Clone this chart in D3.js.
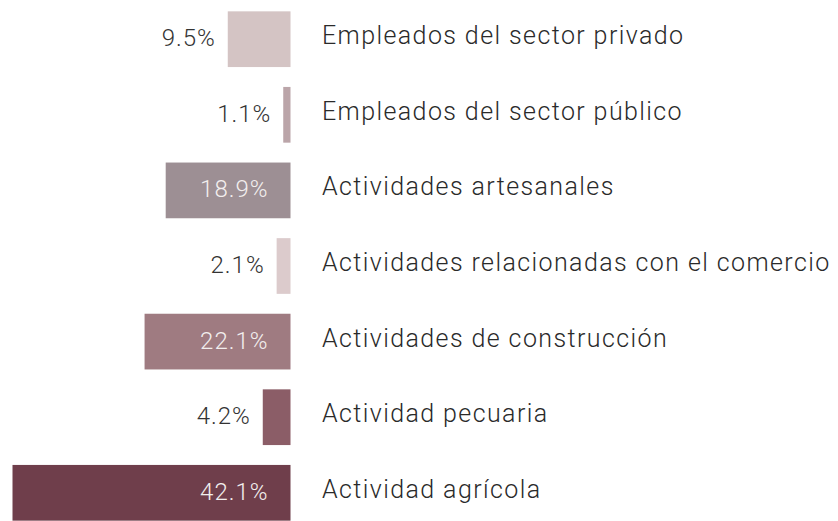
<!DOCTYPE html>
<html>
<head>
<meta charset="utf-8">
<script src="https://cdn.jsdelivr.net/npm/d3@7"></script>
<style>
  html, body { margin: 0; padding: 0; background: #ffffff; }
  svg { display: block; }
  text { font-family: Roboto, "Noto Sans", sans-serif; font-weight: 300; }
</style>
</head>
<body>
<div id="chart"></div>
<script>
const categories = [
  "Empleados del sector privado",
  "Empleados del sector público",
  "Actividades artesanales",
  "Actividades relacionadas con el comercio",
  "Actividades de construcción",
  "Actividad pecuaria",
  "Actividad agrícola"
];
const values = [9.5, 1.1, 18.9, 2.1, 22.1, 4.2, 42.1];
const valueLabels = ["9.5%", "1.1%", "18.9%", "2.1%", "22.1%", "4.2%", "42.1%"];
const colors = ["#d4c4c4", "#bba5a9", "#9d8f94", "#dccbcc", "#9f7b81", "#8b5d67", "#6f3e4b"];

const W = 838, H = 521;
const barRight = 290.5;
const svg = d3.select("#chart").append("svg").attr("width", W).attr("height", H);

const x = d3.scaleLinear().domain([0, 42.1]).range([0, 278]);
const y = d3.scaleBand().domain(categories).range([0, 532]).paddingInner(0.263).paddingOuter(0.15);

const g = svg.append("g");
const rows = g.selectAll("g.row").data(categories).join("g").attr("class", "row");

rows.append("rect")
  .attr("x", (d, i) => barRight - x(values[i]))
  .attr("y", d => y(d))
  .attr("width", (d, i) => x(values[i]))
  .attr("height", y.bandwidth())
  .attr("fill", (d, i) => colors[i]);

rows.append("text")
  .attr("x", (d, i) => values[i] > 10 ? barRight - 22 : barRight - x(values[i]) - 12)
  .attr("y", d => y(d) + y.bandwidth() / 2 + 7)
  .attr("text-anchor", "end")
  .attr("font-size", 24)
  .attr("letter-spacing", "1px")
  .attr("fill", (d, i) => values[i] > 10 ? "#f2eeee" : "#333333")
  .text((d, i) => valueLabels[i]);

rows.append("text")
  .attr("x", 322)
  .attr("y", d => y(d) + y.bandwidth() / 2 + 5)
  .attr("font-size", 25)
  .attr("letter-spacing", "1.4px")
  .attr("fill", "#2a2a2a")
  .text(d => d);
</script>
</body>
</html>
